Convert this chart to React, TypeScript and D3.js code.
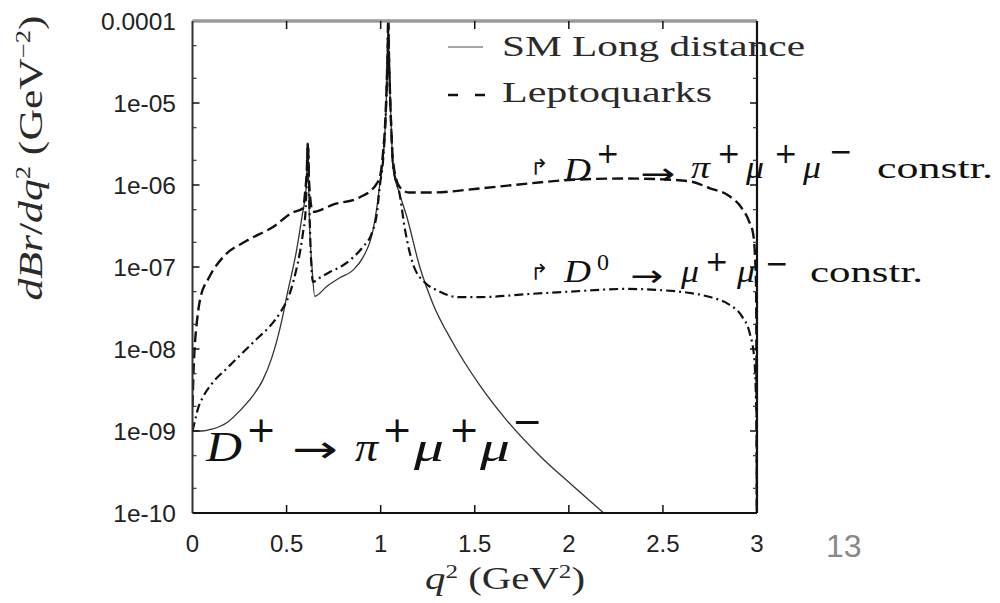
import React from "react";
import * as d3 from "d3";

const W = 1000;
const H = 603;
const PX0 = 192.5, PX1 = 757, PY0 = 21, PY1 = 513;

const xTicks = [0, 0.5, 1, 1.5, 2, 2.5, 3];
const xTickLabels = ["0", "0.5", "1", "1.5", "2", "2.5", "3"];
const yTicks = [1e-4, 1e-5, 1e-6, 1e-7, 1e-8, 1e-9, 1e-10];
const yTickLabels = ["0.0001", "1e-05", "1e-06", "1e-07", "1e-08", "1e-09", "1e-10"];
const yMinorMult = [2, 5];

// SM long distance (solid)
const smQ = [0, 0.05, 0.10, 0.15, 0.19, 0.25, 0.316, 0.374, 0.422, 0.475, 0.50, 0.553, 0.585, 0.597, 0.606, 0.613, 0.620, 0.635, 0.650, 0.713, 0.783, 0.852, 0.905, 0.959, 0.978, 0.996, 1.012, 1.025, 1.033, 1.038, 1.040, 1.043, 1.050, 1.058, 1.065, 1.10, 1.139, 1.208, 1.277, 1.383, 1.527, 1.670, 1.845, 2.021, 2.201, 2.30];
const smBr = [1.0e-9, 1.0e-9, 1.05e-9, 1.15e-9, 1.3e-9, 1.75e-9, 2.6e-9, 4.2e-9, 7.9e-9, 2.25e-8, 4.3e-8, 1.6e-7, 4.5e-7, 6.6e-7, 1.1e-6, 3.2e-6, 5.0e-7, 1.0e-7, 4.4e-8, 5.8e-8, 7.4e-8, 9.1e-8, 1.3e-7, 2.8e-7, 5.0e-7, 1.05e-6, 2.0e-6, 5.6e-6, 1.8e-5, 5.6e-5, 1.1e-4, 5.0e-5, 1.25e-5, 4.0e-6, 1.65e-6, 7.9e-7, 4.1e-7, 1.0e-7, 3.6e-8, 1.2e-8, 3.6e-9, 1.35e-9, 5.0e-10, 2.15e-10, 9.3e-11, 5.9e-11];

// Leptoquarks, D+ -> pi+ mu+ mu- constrained (dashed)
const lqPiQ = [0, 0.005, 0.012, 0.02, 0.04, 0.09, 0.16, 0.29, 0.43, 0.53, 0.587, 0.600, 0.607, 0.613, 0.620, 0.64, 0.75, 0.89, 0.98, 0.996, 1.012, 1.025, 1.033, 1.038, 1.040, 1.043, 1.050, 1.058, 1.065, 1.10, 1.15, 1.27, 1.53, 1.8, 2.0, 2.3, 2.5, 2.65, 2.75, 2.85, 2.92, 2.96, 2.98, 2.995, 3.0];
const lqPiBr = [2.0e-9, 5.0e-9, 1.1e-8, 1.8e-8, 4.0e-8, 7.6e-8, 1.3e-7, 2.1e-7, 3.1e-7, 4.6e-7, 5.2e-7, 8.9e-7, 1.4e-6, 3.2e-6, 1.0e-6, 4.7e-7, 5.8e-7, 7.1e-7, 1.05e-6, 1.25e-6, 2.4e-6, 6.3e-6, 2.0e-5, 5.6e-5, 1.1e-4, 5.0e-5, 1.25e-5, 4.0e-6, 2.0e-6, 9.5e-7, 8.1e-7, 8.1e-7, 9.1e-7, 1.05e-6, 1.15e-6, 1.2e-6, 1.17e-6, 1.1e-6, 9.1e-7, 7.4e-7, 5.2e-7, 3.5e-7, 2.5e-7, 6.3e-8, 1.0e-11];

// Leptoquarks, D0 -> mu+ mu- constrained (dash-dot)
const lqMuQ = [0, 0.015, 0.03, 0.056, 0.10, 0.189, 0.322, 0.438, 0.465, 0.534, 0.587, 0.600, 0.607, 0.613, 0.625, 0.640, 0.677, 0.73, 0.80, 0.852, 0.905, 0.953, 0.98, 0.996, 1.012, 1.025, 1.033, 1.038, 1.040, 1.043, 1.050, 1.058, 1.065, 1.10, 1.13, 1.171, 1.24, 1.30, 1.41, 1.53, 1.8, 2.0, 2.3, 2.5, 2.65, 2.75, 2.85, 2.92, 2.96, 2.985, 2.998, 3.0];
const lqMuBr = [1.0e-9, 1.4e-9, 1.9e-9, 2.6e-9, 3.7e-9, 6.0e-9, 1.2e-8, 2.25e-8, 2.75e-8, 6.4e-8, 2.6e-7, 4.5e-7, 1.1e-6, 3.2e-6, 2.5e-7, 6.6e-8, 7.4e-8, 8.7e-8, 1.05e-7, 1.3e-7, 1.75e-7, 2.6e-7, 4.5e-7, 1.0e-6, 1.9e-6, 5.6e-6, 1.8e-5, 5.6e-5, 1.1e-4, 5.0e-5, 1.25e-5, 4.0e-6, 1.8e-6, 7.9e-7, 2.8e-7, 1.1e-7, 6.3e-8, 5.2e-8, 4.3e-8, 4.3e-8, 4.7e-8, 5.0e-8, 5.4e-8, 5.2e-8, 4.8e-8, 4.3e-8, 3.5e-8, 2.5e-8, 1.6e-8, 7.9e-9, 1.0e-9, 1.0e-11];

const SERIF = "'Liberation Serif', 'DejaVu Serif', serif";
const SANS = "'Liberation Sans', Arial, sans-serif";
const DSANS = "'DejaVu Sans', sans-serif";
const TXT = "#2a2a2a";

type Piece = { t: string; x: number; y: number; size: number; italic?: boolean; font?: string; len?: number };

const annPi: Piece[] = [
  { t: "↱", x: 530, y: 175, size: 22, font: DSANS },
  { t: "D", x: 564, y: 180, size: 31, italic: true, len: 27 },
  { t: "+", x: 596, y: 163, size: 28, font: DSANS },
  { t: "→", x: 640, y: 184, size: 30, font: DSANS, len: 35 },
  { t: "π", x: 691, y: 178, size: 31, italic: true, len: 19 },
  { t: "+", x: 717, y: 163, size: 28, font: DSANS },
  { t: "μ", x: 746, y: 178, size: 31, italic: true, len: 18 },
  { t: "+", x: 774, y: 163, size: 28, font: DSANS },
  { t: "μ", x: 803, y: 178, size: 31, italic: true, len: 18 },
  { t: "−", x: 829, y: 161, size: 28, font: DSANS },
  { t: "constr.", x: 877, y: 178, size: 30, len: 116 },
];

const annMu: Piece[] = [
  { t: "↱", x: 530, y: 280, size: 22, font: DSANS },
  { t: "D", x: 564, y: 282, size: 31, italic: true, len: 27 },
  { t: "0", x: 597, y: 270, size: 24 },
  { t: "→", x: 630, y: 286, size: 30, font: DSANS, len: 33 },
  { t: "μ", x: 681, y: 282, size: 31, italic: true, len: 18 },
  { t: "+", x: 705, y: 271, size: 28, font: DSANS },
  { t: "μ", x: 737, y: 282, size: 31, italic: true, len: 18 },
  { t: "−", x: 765, y: 273, size: 28, font: DSANS },
  { t: "constr.", x: 810, y: 282, size: 30, len: 113 },
];

const annMain: Piece[] = [
  { t: "D", x: 206, y: 461, size: 42, italic: true, len: 36 },
  { t: "+", x: 246, y: 442, size: 36, font: DSANS },
  { t: "→", x: 292, y: 462, size: 38, font: DSANS, len: 46 },
  { t: "π", x: 355, y: 461, size: 42, italic: true, len: 23 },
  { t: "+", x: 382, y: 442, size: 36, font: DSANS },
  { t: "μ", x: 414, y: 461, size: 42, italic: true, len: 30 },
  { t: "+", x: 449, y: 442, size: 36, font: DSANS },
  { t: "μ", x: 480, y: 461, size: 42, italic: true, len: 30 },
  { t: "−", x: 512, y: 434, size: 36, font: DSANS },
];

function renderPieces(ps: Piece[], key: string) {
  return ps.map((p, i) => (
    <text
      key={key + i}
      x={p.x}
      y={p.y}
      fontSize={p.size}
      fontFamily={p.font || SERIF}
      fontStyle={p.italic ? "italic" : "normal"}
      fill="#111"
      textLength={p.len}
      lengthAdjust={p.len ? "spacingAndGlyphs" : undefined}
    >
      {p.t}
    </text>
  ));
}

export default function App() {
  const x = d3.scaleLinear().domain([0, 3]).range([PX0, PX1]);
  const y = d3.scaleLog().domain([1e-10, 1e-4]).range([PY1, PY0]);

  const mk = (qs: number[], vs: number[]) =>
    d3
      .line<number>()
      .x((_, i) => x(qs[i]))
      .y((_, i) => y(vs[i]))
      .curve(d3.curveMonotoneX)(qs) || "";

  const minorTicks: number[] = [];
  for (let e = -10; e < -4; e++) {
    for (const m of yMinorMult) minorTicks.push(m * Math.pow(10, e));
  }

  return (
    <svg width={W} height={H} style={{ position: "absolute", left: 0, top: 0, background: "#fff" }}>
      <rect x={0} y={0} width={W} height={H} fill="#fff" />
      <defs>
        <clipPath id="plotclip">
          <rect x={PX0} y={PY0 - 1} width={PX1 - PX0 + 1} height={PY1 - PY0 + 1} />
        </clipPath>
      </defs>

      {/* curves */}
      <g clipPath="url(#plotclip)" fill="none">
        <path d={mk(smQ, smBr)} stroke="#333" strokeWidth={1.3} />
        <path d={mk(lqMuQ, lqMuBr)} stroke="#111" strokeWidth={2.2} strokeDasharray="9,4,2,4" />
        <path d={mk(lqPiQ, lqPiBr)} stroke="#111" strokeWidth={2.4} strokeDasharray="11,5" />
      </g>

      {/* frame */}
      <line x1={PX0} x2={PX1} y1={PY0} y2={PY0} stroke="#999" strokeWidth={3.5} />
      <line x1={PX0} x2={PX0} y1={PY0} y2={PY1} stroke="#333" strokeWidth={2} />
      <line x1={PX0} x2={PX1} y1={PY1} y2={PY1} stroke="#111" strokeWidth={2} />
      <line x1={PX1} x2={PX1} y1={PY0} y2={PY1} stroke="#111" strokeWidth={2.2} />

      {/* x ticks */}
      {xTicks.map((t, i) => (
        <g key={"xt" + i}>
          {i > 0 && i < xTicks.length - 1 && (
            <>
              <line x1={x(t)} x2={x(t)} y1={PY1} y2={PY1 - 8} stroke="#111" strokeWidth={1.5} />
              <line x1={x(t)} x2={x(t)} y1={PY0} y2={PY0 + 8} stroke="#111" strokeWidth={1.5} />
            </>
          )}
          <text x={x(t)} y={552} textAnchor="middle" fontSize={24} fontFamily={SANS} fill="#222">
            {xTickLabels[i]}
          </text>
        </g>
      ))}

      {/* y ticks */}
      {yTicks.map((t, i) => (
        <g key={"yt" + i}>
          {i > 0 && i < yTicks.length - 1 && (
            <>
              <line x1={PX0} x2={PX0 + 7} y1={y(t)} y2={y(t)} stroke="#111" strokeWidth={1.5} />
              <line x1={PX1} x2={PX1 - 7} y1={y(t)} y2={y(t)} stroke="#111" strokeWidth={1.5} />
            </>
          )}
          <text x={176} y={y(t) + 9} textAnchor="end" fontSize={24.5} fontFamily={SANS} fill="#222">
            {yTickLabels[i]}
          </text>
        </g>
      ))}
      {minorTicks.map((t, i) => (
        <g key={"ym" + i}>
          <line x1={PX0} x2={PX0 + 4} y1={y(t)} y2={y(t)} stroke="#333" strokeWidth={1.2} />
          <line x1={PX1} x2={PX1 - 4} y1={y(t)} y2={y(t)} stroke="#333" strokeWidth={1.2} />
        </g>
      ))}

      {/* axis titles */}
      <text x={505} y={589} textAnchor="middle" fontSize={31} fontFamily={SERIF} fill={TXT} textLength={160} lengthAdjust="spacingAndGlyphs">
        <tspan fontStyle="italic">q</tspan>
        <tspan fontSize={19} dy={-11}>2</tspan>
        <tspan dy={11}> (GeV</tspan>
        <tspan fontSize={19} dy={-11}>2</tspan>
        <tspan dy={11}>)</tspan>
      </text>
      <text
        transform="translate(42,158) rotate(-90)"
        textAnchor="middle"
        fontSize={33}
        fontFamily={SERIF}
        fill={TXT}
        textLength={285}
        lengthAdjust="spacingAndGlyphs"
      >
        <tspan fontStyle="italic">dBr</tspan>
        <tspan>/</tspan>
        <tspan fontStyle="italic">dq</tspan>
        <tspan fontSize={20} dy={-12}>2</tspan>
        <tspan dy={12}> (GeV</tspan>
        <tspan fontSize={20} dy={-12}>−2</tspan>
        <tspan dy={12}>)</tspan>
      </text>

      {/* legend */}
      <line x1={448} x2={483} y1={47} y2={47} stroke="#888" strokeWidth={1.6} />
      <text x={502} y={56} fontSize={30} fontFamily={SERIF} fill={TXT} textLength={303} lengthAdjust="spacingAndGlyphs">
        SM Long distance
      </text>
      <line x1={448} x2={486} y1={95} y2={95} stroke="#111" strokeWidth={2.6} strokeDasharray="10,17" />
      <text x={502} y={102} fontSize={30} fontFamily={SERIF} fill={TXT} textLength={210} lengthAdjust="spacingAndGlyphs">
        Leptoquarks
      </text>

      {/* annotations */}
      {renderPieces(annPi, "a")}
      {renderPieces(annMu, "b")}
      {renderPieces(annMain, "c")}

      {/* slide number */}
      <text x={826} y={557} fontSize={32} fontFamily={SANS} fill="#888">
        13
      </text>
    </svg>
  );
}
